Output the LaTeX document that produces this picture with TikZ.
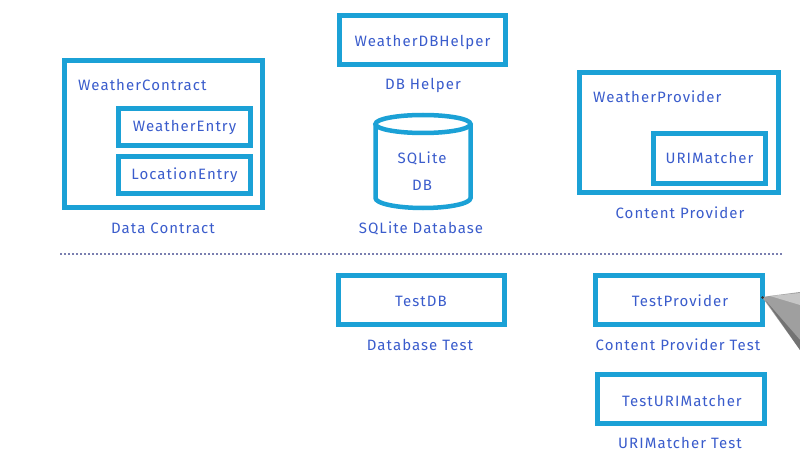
\documentclass[tikz,border=0pt]{standalone}
\usepackage{fontspec}
\setmainfont[LetterSpace=7]{Fira Sans}
\usetikzlibrary{shapes.geometric}
\definecolor{boxblue}{HTML}{1BA1D6}
\definecolor{txtblue}{HTML}{3A5CCC}
\definecolor{dotcol}{HTML}{7A7FB0}
\begin{document}
\begin{tikzpicture}[x=1pt,y=-1pt,
  frame/.style={draw=boxblue,line width=5pt,line join=miter},
  lbl/.style={text=txtblue,font=\fontsize{15}{17}\selectfont,inner sep=0pt},
  ]
\useasboundingbox[fill=white] (0,0) rectangle (800,473);
% Data contract
\draw[frame] (64.5,60.5) rectangle (262.5,207.5);
\node[lbl,anchor=west] (wc) at (78,85) {WeatherContract};
\draw[frame] (118.5,108.5) rectangle (250.5,145.5);
\node[lbl] (we) at (184.5,127) {WeatherEntry};
\draw[frame] (118.5,156.5) rectangle (250.5,193.5);
\node[lbl] (le) at (184.5,175) {LocationEntry};
\node[lbl] (dc) at (163,228) {Data Contract};
% DB helper
\draw[frame] (339.5,15.5) rectangle (505.5,64.5);
\node[lbl] (dbh) at (422.5,42) {WeatherDBHelper};
\node[lbl] (dbhl) at (423,85) {DB Helper};
% SQLite cylinder
\draw[frame,line width=4.5pt] (375.5,124) -- (375.5,198) arc[start angle=180,end angle=0,x radius=47.5,y radius=10] -- (470.5,124);
\draw[frame,line width=4.5pt] (423,124) ellipse[x radius=47.5,y radius=9];
\node[lbl] (sq) at (422,158) {SQLite};
\node[lbl] (sqdb) at (422,185) {DB};
\node[lbl] (sql) at (421,228) {SQLite Database};
% Content provider
\draw[frame] (579.5,72.5) rectangle (778.5,192.5);
\node[lbl,anchor=west] (wp) at (593,97) {WeatherProvider};
\draw[frame] (653.5,133.5) rectangle (765.5,183.5);
\node[lbl] (um) at (709.5,158) {URIMatcher};
\node[lbl] (cp) at (680,213) {Content Provider};
% separator
\draw[dotcol,line width=1.5pt,dash pattern=on 1.5pt off 2.5pt] (60,254) -- (782,254);
% tests
\draw[frame] (338.5,275.5) rectangle (504.5,324.5);
\node[lbl] (tdb) at (421,301) {TestDB};
\node[lbl] (dbt) at (420,345) {Database Test};
\draw[frame] (595.5,275.5) rectangle (762.5,324.5);
\node[lbl] (tp) at (680,301) {TestProvider};
\node[lbl] (cpt) at (678,345) {Content Provider Test};
\draw[frame] (597.5,374.5) rectangle (764.5,423.5);
\node[lbl] (tum) at (682,401) {TestURIMatcher};
\node[lbl] (umt) at (680,443) {URIMatcher Test};
% pen
\fill[gray!75] (762,297) -- (800,292) -- (800,350) -- cycle;
\fill[gray!45] (770,296) -- (800,293) -- (800,305) -- cycle;
\fill[gray!90!black] (766,301) -- (800,340) -- (800,350) -- cycle;
\fill[black!80] (762.5,297.5) circle[radius=1.5];
\end{tikzpicture}
\end{document}
